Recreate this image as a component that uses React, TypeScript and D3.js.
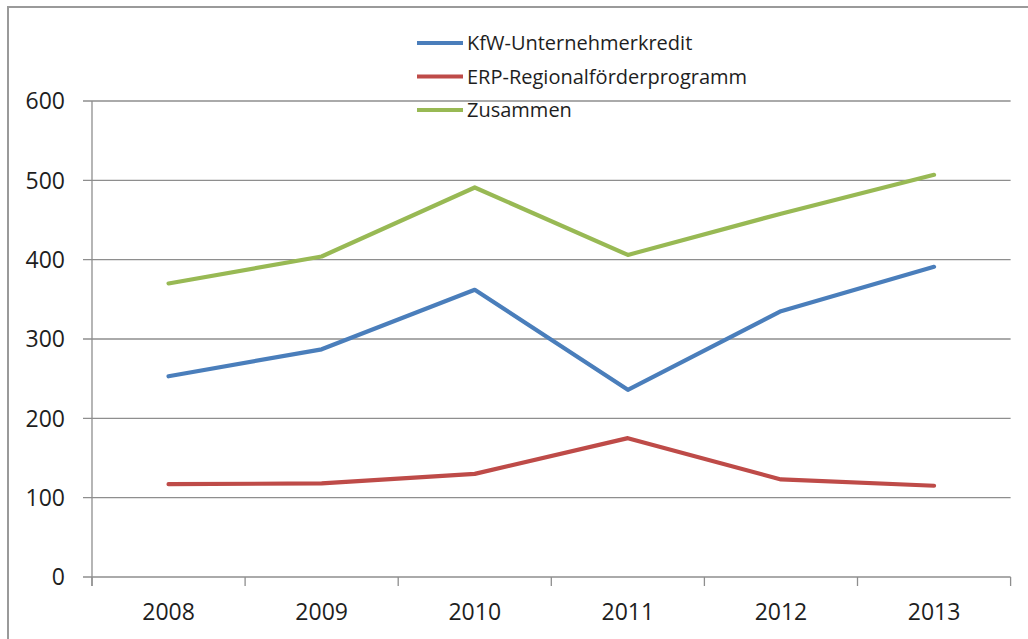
import React from "react";
import * as d3 from "d3";

const years = ["2008", "2009", "2010", "2011", "2012", "2013"];
const kfw = [253, 287, 362, 236, 335, 391];
const erp = [117, 118, 130, 175, 123, 115];
const zusammen = [370, 404, 491, 406, 458, 507];
const yTicks = [0, 100, 200, 300, 400, 500, 600];
const seriesNames = ["KfW-Unternehmerkredit", "ERP-Regionalförderprogramm", "Zusammen"];
const seriesColors = ["#4A7EBB", "#BE4B48", "#98B954"];

const W = 1028;
const H = 639;
const FONT = "'Open Sans', 'Noto Sans', sans-serif";

export default function App() {
  const left = 92;
  const right = 1010.6;
  const top = 101;
  const bottom = 577;
  const x = d3.scaleBand<string>().domain(years).range([left, right]).padding(0);
  const y = d3.scaleLinear().domain([0, 600]).range([bottom, top]);
  const cx = (d: string) => (x(d) as number) + x.bandwidth() / 2;
  const line = d3
    .line<number>()
    .x((_, i) => cx(years[i]))
    .y((v) => y(v));
  const series = [kfw, erp, zusammen];
  const gridColor = "#8e8e8e";
  const textColor = "#1e1e1e";
  const boundaries = [...years.map((d) => x(d) as number), right];

  return (
    <svg
      width={W}
      height={H}
      style={{ position: "absolute", left: 0, top: 0, background: "#fff" }}
      fontFamily={FONT}
    >
      <rect x={8} y={7} width={1100} height={800} fill="#fff" stroke="#9a9a9a" strokeWidth={2} />
      {yTicks.map((t) => (
        <g key={t}>
          <line x1={83} x2={right} y1={y(t)} y2={y(t)} stroke={gridColor} strokeWidth={1.3} />
          <text
            x={65}
            y={y(t)}
            dy="0.36em"
            textAnchor="end"
            fontSize={23}
            fill={textColor}
          >
            {t}
          </text>
        </g>
      ))}
      <line x1={left} x2={left} y1={top} y2={bottom + 9} stroke={gridColor} strokeWidth={1.3} />
      {boundaries.map((b, i) => (
        <line key={i} x1={b} x2={b} y1={bottom} y2={bottom + 9} stroke={gridColor} strokeWidth={1.3} />
      ))}
      {years.map((d) => (
        <text key={d} x={cx(d)} y={620} textAnchor="middle" fontSize={23} fill={textColor}>
          {d}
        </text>
      ))}
      {series.map((s, i) => (
        <path
          key={i}
          d={line(s) as string}
          fill="none"
          stroke={seriesColors[i]}
          strokeWidth={4.2}
          strokeLinejoin="round"
          strokeLinecap="round"
        />
      ))}
      {seriesNames.map((n, i) => {
        const ly = 43 + i * 33.5;
        return (
          <g key={n}>
            <line x1={417} x2={463} y1={ly} y2={ly} stroke={seriesColors[i]} strokeWidth={4.2} />
            <text x={467} y={ly} dy="0.36em" fontSize={20} fill={textColor}>
              {n}
            </text>
          </g>
        );
      })}
    </svg>
  );
}
